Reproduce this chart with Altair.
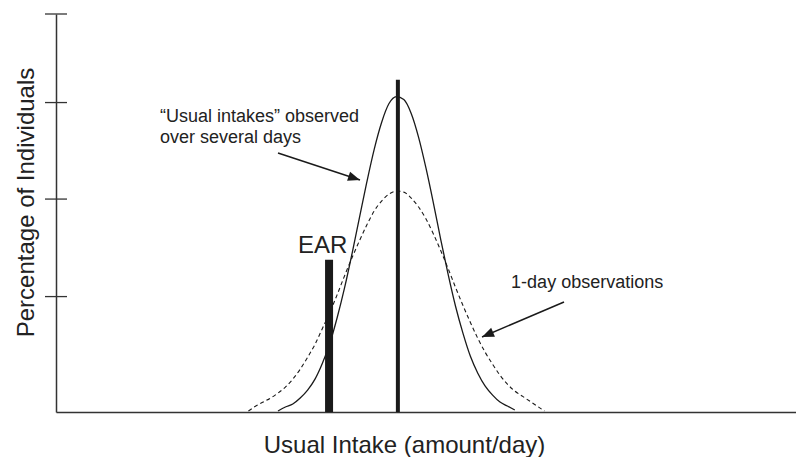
import math
import altair as alt
import pandas as pd

# ---- data (arbitrary units) ----
solid_x = list(range(30, 63))
solid_y = [0.1, 0.5, 0.8, 1.4, 2.2, 3.3, 4.9, 6.9, 9.5, 12.5,
           15.9, 19.5, 23.1, 26.4, 29.1, 31.0, 31.7, 31.4, 30.0, 27.6,
           24.5, 21.0, 17.3, 13.8, 10.6, 7.9, 5.6, 3.9, 2.6, 1.7,
           1.0, 0.6, 0.2]

dashed_x = list(range(26, 67))
dashed_y = [0.1, 0.6, 1.0, 1.4, 1.9, 2.5, 3.3, 4.3, 5.5, 6.8,
            8.4, 10.0, 11.8, 13.7, 15.5, 17.2, 18.8, 20.2, 21.2, 21.9,
            22.2, 22.1, 21.5, 20.6, 19.4, 17.9, 16.2, 14.4, 12.5, 10.7,
            9.0, 7.4, 6.0, 4.8, 3.7, 2.8, 2.1, 1.6, 1.1, 0.6, 0.1]

mean_x = [46.2]
mean_top = [33.4]
ear_x = [36.9]
ear_top = [15.3]

y_ticks = [11.6, 21.4, 31.1, 40.0]

note_text = ["\u201cUsual intakes\u201d observed", "over several days", "1-day observations"]
note_x = [14.05, 14.05, 61.5]
note_y = [29.15, 27.04, 12.46]

ear_text = ["EAR"]
ear_text_x = [32.7]
ear_text_y = [15.98]

arrow_x1 = [30.0, 68.65]
arrow_y1 = [26.03, 11.06]
arrow_x2 = [41.08, 57.57]
arrow_y2 = [23.32, 7.54]

# ---- layout ----
W, H = 740, 398
XMAX, YMAX = 100, 40
px_x = W / XMAX
px_y = H / YMAX
INK = "#1a1a1a"
FONT = "Liberation Sans"

xscale = alt.Scale(domain=[0, XMAX], nice=False, zero=False)
yscale = alt.Scale(domain=[0, YMAX], nice=False)

x_axis = alt.Axis(title="Usual Intake (amount/day)", ticks=False, labels=False,
                  grid=False, domainColor="#333333", domainWidth=1.5,
                  titleFontSize=24, titleFont=FONT, titleFontWeight="normal",
                  titleColor="#222222", titleX=348, titleY=40,
                  titleAlign="center", titleBaseline="alphabetic")
y_axis = alt.Axis(title="Percentage of Individuals", ticks=False, labels=False,
                  grid=False, domainColor="#333333", domainWidth=1.5,
                  titleFontSize=24, titleFont=FONT, titleFontWeight="normal",
                  titleColor="#222222", titleX=-23, titleY=188, titleAngle=-90,
                  titleAlign="center", titleBaseline="alphabetic")


def X(f):
    return alt.X(f, type="quantitative", scale=xscale, axis=x_axis)


def Y(f):
    return alt.Y(f, type="quantitative", scale=yscale, axis=y_axis)


df_solid = pd.DataFrame({"x": solid_x, "y": solid_y})
df_dash = pd.DataFrame({"x": dashed_x, "y": dashed_y})
df_mean = pd.DataFrame({"x": mean_x, "y": [0.0], "y2": mean_top})
df_ear = pd.DataFrame({"x": ear_x, "y": [0.0], "y2": ear_top})
df_ticks = pd.DataFrame({"y": y_ticks, "x": [-1.49] * len(y_ticks), "x2": [1.49] * len(y_ticks)})
df_notes = pd.DataFrame({"x": note_x, "y": note_y, "t": note_text})
df_eart = pd.DataFrame({"x": ear_text_x, "y": ear_text_y, "t": ear_text})

angles = []
for a, b, c, d in zip(arrow_x1, arrow_y1, arrow_x2, arrow_y2):
    ang = math.degrees(math.atan2(-(d - b) * px_y, (c - a) * px_x)) % 360
    angles.append(ang)
df_arrow = pd.DataFrame({"x": arrow_x1, "y": arrow_y1, "x2": arrow_x2, "y2": arrow_y2,
                         "angle": angles})

solid = alt.Chart(df_solid).mark_line(color=INK, strokeWidth=1.3, interpolate="monotone").encode(
    x=X("x"), y=Y("y"))
dashed = alt.Chart(df_dash).mark_line(color=INK, strokeWidth=1.1, strokeDash=[4, 3],
                                      interpolate="monotone").encode(x=X("x"), y=Y("y"))
mean_rule = alt.Chart(df_mean).mark_rule(color=INK, strokeWidth=4).encode(
    x=X("x"), y=Y("y"), y2="y2")
ear_rule = alt.Chart(df_ear).mark_rule(color=INK, strokeWidth=8).encode(
    x=X("x"), y=Y("y"), y2="y2")
ticks = alt.Chart(df_ticks).mark_rule(color="#333333", strokeWidth=1.3).encode(
    x=X("x"), x2="x2", y=Y("y"))
notes = alt.Chart(df_notes).mark_text(align="left", baseline="alphabetic", fontSize=18,
                                      font=FONT, color="#222222").encode(
    x=X("x"), y=Y("y"), text="t:N")
ear_lab = alt.Chart(df_eart).mark_text(align="left", baseline="alphabetic", fontSize=24,
                                       font=FONT, color="#222222").encode(
    x=X("x"), y=Y("y"), text="t:N")
arrow_lines = alt.Chart(df_arrow).mark_rule(color=INK, strokeWidth=1.5).encode(
    x=X("x"), y=Y("y"), x2="x2", y2="y2")
arrow_heads = alt.Chart(df_arrow).mark_point(
    shape="M0,0L-1,-0.4L-1,0.4Z", filled=True, size=576, color=INK, opacity=1,
    strokeWidth=0).encode(
    x=X("x2"), y=Y("y2"), angle=alt.Angle("angle:Q", scale=None))

chart = alt.layer(dashed, solid, ear_rule, mean_rule, ticks, notes, ear_lab,
                  arrow_lines, arrow_heads).properties(
    width=W, height=H,
    padding={"left": 48, "top": 6, "right": 0, "bottom": 45},
    autosize=alt.AutoSizeParams(type="none"),
    background="white",
).configure_view(stroke=None)

chart.save("out.html", embed_options={"renderer": "svg", "actions": False})
